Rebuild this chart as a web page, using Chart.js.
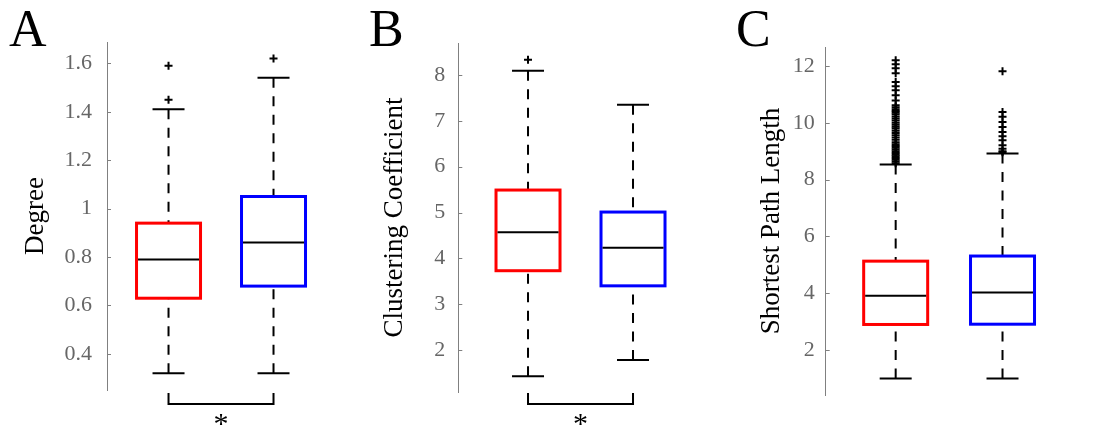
<!DOCTYPE html>
<html lang="en">

<head>
  <meta charset="UTF-8">
  <meta name="viewport" content="width=device-width, initial-scale=1.0">
  <title>Network measures</title>

  <script src="https://cdn.jsdelivr.net/npm/chart.js@4.4.0/dist/chart.umd.min.js"></script>

  <style>
    body {
      margin: 0;
      background: #fff;
      font-family: 'Liberation Serif', serif;
    }

    .figure {
      position: relative;
      width: 1111px;
      height: 429px;
    }

    .figure canvas {
      position: absolute;
      top: 0;
    }

    .letter {
      position: absolute;
      top: 3px;
      font-size: 52px;
      line-height: 52px;
      color: #000;
    }
  </style>
</head>

<body>
  <div class="figure">
    <canvas id="chart-degree" width="370" height="429" style="left:0"></canvas>
    <canvas id="chart-clustering" width="370" height="429" style="left:370px"></canvas>
    <canvas id="chart-path" width="371" height="429" style="left:740px"></canvas>
    <div class="letter" style="left:9px">A</div>
    <div class="letter" style="left:369px">B</div>
    <div class="letter" style="left:736px">C</div>
  </div>

  <script>
    // two groups, red first, blue second
    const positions = [1, 2];
    const boxColors = ['#ff0000', '#0000ff'];

    const degreeTicks = [0.4, 0.6, 0.8, 1, 1.2, 1.4, 1.6];
    const degreeLow = [0.32, 0.32];
    const degreeQ1 = [0.63, 0.68];
    const degreeMedian = [0.79, 0.86];
    const degreeQ3 = [0.94, 1.05];
    const degreeHigh = [1.41, 1.54];
    const degreeOutliers = [[1.45, 1.59], [1.62]];

    const clusteringTicks = [2, 3, 4, 5, 6, 7, 8];
    const clusteringLow = [1.43, 1.78];
    const clusteringQ1 = [3.73, 3.40];
    const clusteringMedian = [4.57, 4.23];
    const clusteringQ3 = [5.49, 5.01];
    const clusteringHigh = [8.09, 7.35];
    const clusteringOutliers = [[8.33], []];

    const pathTicks = [2, 4, 6, 8, 10, 12];
    const pathLow = [1.0, 1.0];
    const pathQ1 = [2.90, 2.91];
    const pathMedian = [3.91, 4.03];
    const pathQ3 = [5.13, 5.31];
    const pathHigh = [8.53, 8.92];
    const pathOutliers = [
      [12.2, 12.06, 11.92, 11.75, 11.44, 11.29, 11.15, 10.97, 10.79, 10.62, 10.55, 10.48, 10.42, 10.36,
        10.3, 10.22, 10.15, 10.08, 10.0, 9.93, 9.86, 9.8, 9.72, 9.64, 9.56, 9.48, 9.4, 9.32, 9.25, 9.18,
        9.12, 9.06, 9.0, 8.94, 8.88, 8.82, 8.76, 8.7, 8.64, 8.58],
      [11.82, 10.38, 10.21, 10.03, 9.85, 9.68, 9.53, 9.39, 9.21, 9.09, 9.0, 8.96]
    ];

    function line(ctx, x1, y1, x2, y2) {
      ctx.beginPath();
      ctx.moveTo(x1, y1);
      ctx.lineTo(x2, y2);
      ctx.stroke();
    }

    const boxPlugin = {
      id: 'boxes',
      afterDatasetsDraw(chart, args, opts) {
        const { ctx, scales: { x, y } } = chart;
        const s = opts.stats;
        ctx.save();
        positions.forEach((p, i) => {
          const cx = x.getPixelForValue(p);
          const yLow = y.getPixelForValue(s.low[i]);
          const yQ1 = y.getPixelForValue(s.q1[i]);
          const yMed = y.getPixelForValue(s.median[i]);
          const yQ3 = y.getPixelForValue(s.q3[i]);
          const yHigh = y.getPixelForValue(s.high[i]);

          ctx.strokeStyle = '#000';
          ctx.lineWidth = 2;
          ctx.setLineDash([10, 8.5]);
          line(ctx, cx, yHigh, cx, yQ3);
          line(ctx, cx, yLow, cx, yQ1);
          ctx.setLineDash([]);
          line(ctx, cx - 16, yHigh, cx + 16, yHigh);
          line(ctx, cx - 16, yLow, cx + 16, yLow);

          ctx.strokeStyle = boxColors[i];
          ctx.lineWidth = 3;
          ctx.strokeRect(cx - 32, yQ3, 64, yQ1 - yQ3);

          ctx.strokeStyle = '#000';
          ctx.lineWidth = 2;
          line(ctx, cx - 30.5, yMed, cx + 30.5, yMed);
        });

        if (opts.star) {
          const x1 = x.getPixelForValue(positions[0]);
          const x2 = x.getPixelForValue(positions[1]);
          ctx.strokeStyle = '#000';
          ctx.lineWidth = 2;
          ctx.beginPath();
          ctx.moveTo(x1, 393);
          ctx.lineTo(x1, 404);
          ctx.lineTo(x2, 404);
          ctx.lineTo(x2, 393);
          ctx.stroke();

          ctx.fillStyle = '#000';
          ctx.font = '30px "Liberation Serif"';
          ctx.textAlign = 'center';
          ctx.textBaseline = 'alphabetic';
          const m = ctx.measureText('*');
          const mid = (m.actualBoundingBoxAscent - m.actualBoundingBoxDescent) / 2;
          ctx.fillText('*', (x1 + x2) / 2, 419 + mid);
        }
        ctx.restore();
      }
    };

    // tick marks point into the plot, like the original figure
    const innerTicks = {
      id: 'innerTicks',
      afterDraw(chart) {
        const { ctx, chartArea, scales: { y } } = chart;
        ctx.save();
        ctx.strokeStyle = '#808080';
        ctx.lineWidth = 1;
        y.ticks.forEach(t => {
          const py = Math.round(y.getPixelForValue(t.value)) + 0.5;
          line(ctx, chartArea.left, py, chartArea.left + 4, py);
        });
        ctx.restore();
      }
    };

    function createPanel(id, cfg) {
      const points = cfg.outliers.flatMap((vals, i) => vals.map(v => ({ x: positions[i], y: v })));

      new Chart(document.getElementById(id), {
        type: 'scatter',
        data: {
          datasets: [{
            data: points,
            pointStyle: 'cross',
            radius: 4,
            borderWidth: 2,
            borderColor: '#000'
          }]
        },
        options: {
          responsive: false,
          animation: false,
          events: [],
          layout: { padding: { top: cfg.top, bottom: cfg.bottom, left: 0, right: 40 } },
          plugins: {
            legend: { display: false },
            tooltip: { enabled: false },
            boxes: {
              star: cfg.star,
              stats: { low: cfg.low, q1: cfg.q1, median: cfg.median, q3: cfg.q3, high: cfg.high }
            }
          },
          scales: {
            x: { type: 'linear', display: false, min: cfg.xMin, max: cfg.xMax },
            y: {
              min: cfg.yMin,
              max: cfg.yMax,
              afterFit: s => { s.width = cfg.axisX; },
              afterBuildTicks: s => { s.ticks = cfg.ticks.map(v => ({ value: v })); },
              grid: { display: false, drawTicks: false },
              border: { color: '#808080', width: 1 },
              ticks: {
                color: '#666',
                padding: cfg.tickPad,
                font: { family: 'Liberation Serif', size: 22 },
                callback: v => String(v)
              },
              title: {
                display: true,
                text: cfg.title,
                color: '#000',
                font: { family: 'Liberation Serif', size: 27 },
                padding: { top: cfg.titlePad, bottom: 0 }
              }
            }
          }
        },
        plugins: [boxPlugin, innerTicks]
      });
    }

    createPanel('chart-degree', {
      title: 'Degree', ticks: degreeTicks,
      low: degreeLow, q1: degreeQ1, median: degreeMedian, q3: degreeQ3, high: degreeHigh,
      outliers: degreeOutliers, star: true,
      yMin: 0.251, yMax: 1.688, xMin: 0.414, xMax: 2.538,
      axisX: 107, top: 42, bottom: 39, titlePad: 20, tickPad: 15
    });

    createPanel('chart-clustering', {
      title: 'Clustering Coefficient', ticks: clusteringTicks,
      low: clusteringLow, q1: clusteringQ1, median: clusteringMedian, q3: clusteringQ3, high: clusteringHigh,
      outliers: clusteringOutliers, star: true,
      yMin: 1.084, yMax: 8.698, xMin: 0.336, xMax: 2.638,
      axisX: 88.3, top: 43, bottom: 37, titlePad: 9, tickPad: 13
    });

    createPanel('chart-path', {
      title: 'Shortest Path Length', ticks: pathTicks,
      low: pathLow, q1: pathQ1, median: pathMedian, q3: pathQ3, high: pathHigh,
      outliers: pathOutliers, star: false,
      yMin: 0.417, yMax: 12.67, xMin: 0.345, xMax: 2.641,
      axisX: 85.7, top: 47, bottom: 34, titlePad: 16, tickPad: 11
    });
  </script>
</body>

</html>
